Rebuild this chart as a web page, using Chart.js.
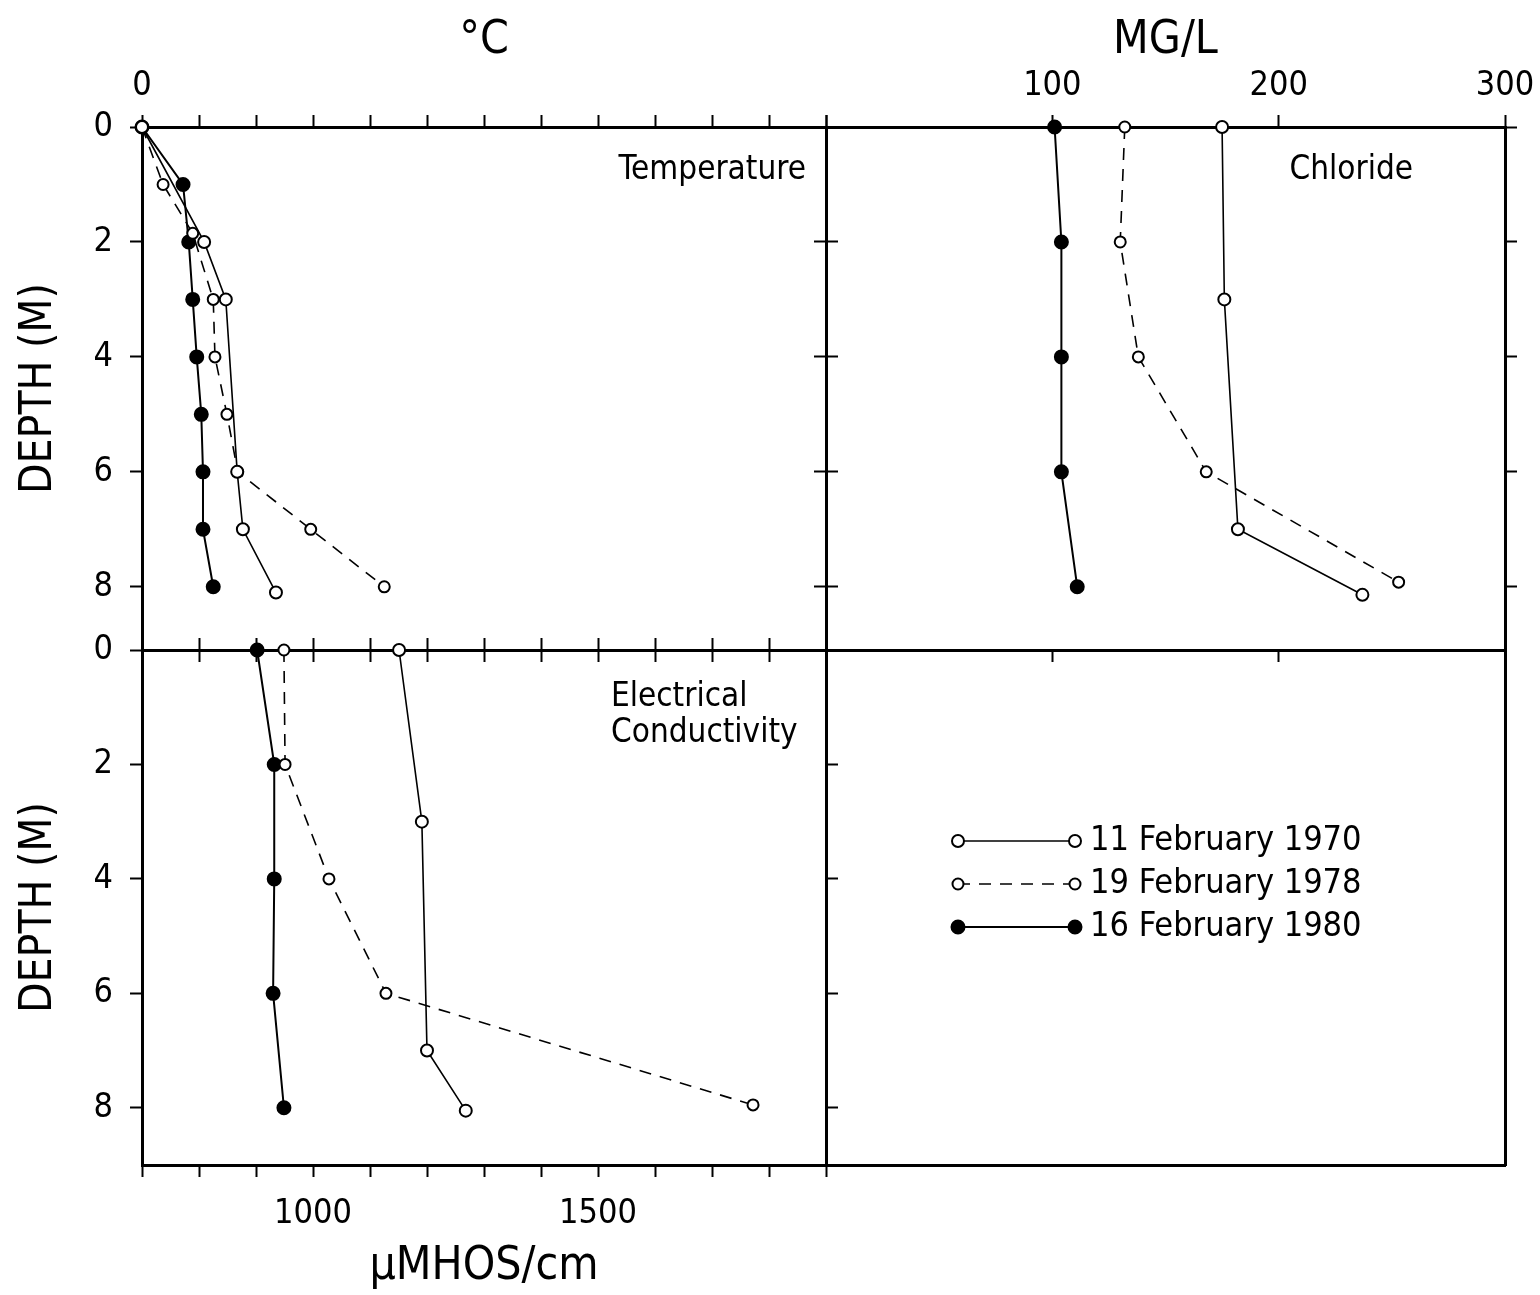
<!DOCTYPE html>
<html>
<head>
<meta charset="utf-8">
<title>Depth profiles: temperature, chloride, conductivity</title>
<script src="https://cdn.jsdelivr.net/npm/chart.js@4.4.1/dist/chart.umd.min.js"></script>
<style>
    html, body { margin: 0; padding: 0; background: #fff; }
    #wrap { position: relative; width: 1540px; height: 1295px; }
    #wrap canvas { position: absolute; left: 0; top: 0; }
</style>
</head>
<body>
<div id="wrap">
    <canvas id="temp-chart" width="1540" height="1295"></canvas>
    <canvas id="chloride-chart" width="1540" height="1295"></canvas>
    <canvas id="cond-chart" width="1540" height="1295"></canvas>
    <canvas id="legend-chart" width="1540" height="1295"></canvas>
</div>
<script>
// Survey dates
const seriesLabels = ['11 February 1970', '19 February 1978', '16 February 1980'];

// Temperature (°C) against depth (m)
const tempDepth1970 = [0, 2, 3, 6, 7, 8.1];
const temp1970 = [0, 1.09, 1.47, 1.67, 1.77, 2.35];
const tempDepth1978 = [0, 1, 1.85, 3, 4, 5, 6, 7, 8];
const temp1978 = [0, 0.37, 0.89, 1.25, 1.28, 1.49, 1.68, 2.96, 4.25];
const tempDepth1980 = [0, 1, 2, 3, 4, 5, 6, 7, 8];
const temp1980 = [0, 0.72, 0.82, 0.89, 0.96, 1.04, 1.07, 1.07, 1.25];

// Chloride (mg/L) against depth (m)
const clDepth1970 = [0, 3, 7, 8.14];
const cl1970 = [175, 176, 182, 237];
const clDepth1978 = [0, 2, 4, 6, 7.92];
const cl1978 = [132, 130, 138, 168, 253];
const clDepth1980 = [0, 2, 4, 6, 8];
const cl1980 = [101, 104, 104, 104, 111];

// Electrical conductivity (µmhos/cm) against depth (m)
const ecDepth1970 = [0, 3, 7, 8.05];
const ec1970 = [1151, 1191, 1200, 1268];
const ecDepth1978 = [0, 2, 4, 6, 7.95];
const ec1978 = [949, 951, 1028, 1128, 1772];
const ecDepth1980 = [0, 2, 4, 6, 8];
const ec1980 = [902, 932, 932, 930, 949];

// Axis ticks
const depthTicks = [0, 2, 4, 6, 8];
const tempLabelled = [0];
const chlorideLabelled = [100, 200, 300];
const condLabelled = [1000, 1500];

const FONT = "'DejaVu Sans Condensed', 'Liberation Sans Narrow', 'DejaVu Sans', sans-serif";
Chart.defaults.font.family = FONT;
Chart.defaults.color = '#000';

// line / marker style for each survey
const seriesStyles = [
    { borderWidth: 1.6, borderDash: [], pointRadius: 6, pointBackgroundColor: '#fff' },
    { borderWidth: 1.6, borderDash: [12, 9], pointRadius: 5.5, pointBackgroundColor: '#fff' },
    { borderWidth: 2, borderDash: [], pointRadius: 6.5, pointBackgroundColor: '#000' }
];

function makePoints(xs, depths) {
    return xs.map((v, i) => ({ x: v, y: depths[i] }));
}

function buildDatasets(pointSets) {
    return pointSets.map((pts, i) => ({
        label: seriesLabels[i],
        data: pts,
        showLine: true,
        borderColor: '#000',
        borderWidth: seriesStyles[i].borderWidth,
        borderDash: seriesStyles[i].borderDash,
        pointRadius: seriesStyles[i].pointRadius,
        pointBackgroundColor: seriesStyles[i].pointBackgroundColor,
        pointBorderColor: '#000',
        pointBorderWidth: 2,
        clip: false
    }));
}

// fix the thickness of an axis box so the panels line up,
// and drop the label overhang so the chart area is not pushed in
function fixedSize(size) {
    return function(scale) {
        if (scale.isHorizontal()) {
            scale.height = size;
        } else {
            scale.width = size;
        }
        scale.paddingLeft = 0;
        scale.paddingRight = 0;
        scale.paddingTop = 0;
        scale.paddingBottom = 0;
    };
}

const frame = { display: true, color: '#000', width: 3 };

function tickMarks(len) {
    return { drawOnChartArea: false, drawTicks: true, tickLength: len, tickWidth: 2, tickColor: '#000' };
}

function labelOnly(list) {
    return function(value) {
        return list.includes(value) ? String(value) : '';
    };
}

function depthAxis(position, max, withLabels, size) {
    return {
        type: 'linear',
        axis: 'y',
        position: position,
        reverse: true,
        min: 0,
        max: max,
        afterBuildTicks: scale => { scale.ticks = depthTicks.map(v => ({ value: v })); },
        ticks: { display: withLabels, padding: 17, font: { size: 34 } },
        grid: tickMarks(12),
        border: frame,
        title: {
            display: withLabels,
            text: 'DEPTH (M)',
            font: { size: 44 },
            padding: { top: 13 }
        },
        afterFit: fixedSize(size)
    };
}

function valueAxis(position, min, max, step, labelled, size, titleText, titleOpts) {
    const showLabels = labelled.length > 0;
    return {
        type: 'linear',
        axis: 'x',
        position: position,
        min: min,
        max: max,
        ticks: {
            display: showLabels,
            stepSize: step,
            autoSkip: false,
            maxRotation: 0,
            padding: position === 'top' ? 8 : 17,
            font: { size: 34 },
            callback: labelOnly(labelled)
        },
        grid: tickMarks(12),
        border: frame,
        title: Object.assign({ display: !!titleText, text: titleText || '', font: { size: 46 } }, titleOpts || {}),
        afterFit: fixedSize(size)
    };
}

// small text written inside a panel
const panelTextPlugin = {
    id: 'panelText',
    afterDraw(chart, args, opts) {
        if (!opts.lines) return;
        const { ctx, chartArea } = chart;
        ctx.save();
        ctx.font = opts.size + 'px ' + FONT;
        ctx.fillStyle = '#000';
        ctx.textAlign = opts.align;
        ctx.textBaseline = 'middle';
        const x = opts.align === 'right' ? chartArea.right - opts.dx : chartArea.left + opts.dx;
        opts.lines.forEach((line, i) => {
            ctx.fillText(line, x, chartArea.top + opts.dy + i * opts.lineGap);
        });
        ctx.restore();
    }
};

// legend drawn as line sample with a marker at each end
const sampleLegendPlugin = {
    id: 'sampleLegend',
    afterDraw(chart, args, opts) {
        if (!opts.rowGap) return;
        const { ctx, chartArea } = chart;
        chart.data.datasets.forEach((ds, i) => {
            const y = chartArea.top + opts.top + i * opts.rowGap;
            const x1 = chartArea.left + opts.left;
            const x2 = x1 + opts.lineLength;
            ctx.save();
            ctx.strokeStyle = ds.borderColor;
            ctx.lineWidth = ds.borderWidth;
            ctx.setLineDash(ds.borderDash);
            ctx.beginPath();
            ctx.moveTo(x1, y);
            ctx.lineTo(x2, y);
            ctx.stroke();
            ctx.setLineDash([]);
            [x1, x2].forEach(x => {
                ctx.beginPath();
                ctx.arc(x, y, ds.pointRadius, 0, Math.PI * 2);
                ctx.fillStyle = ds.pointBackgroundColor;
                ctx.fill();
                ctx.lineWidth = ds.pointBorderWidth;
                ctx.strokeStyle = ds.pointBorderColor;
                ctx.stroke();
            });
            ctx.fillStyle = '#000';
            ctx.font = opts.size + 'px ' + FONT;
            ctx.textAlign = 'left';
            ctx.textBaseline = 'middle';
            ctx.fillText(ds.label, x2 + opts.textGap, y);
            ctx.restore();
        });
    }
};

Chart.register(panelTextPlugin, sampleLegendPlugin);

const commonOptions = {
    responsive: false,
    animation: false,
    events: []
};

// Temperature panel (top left)
new Chart(document.getElementById('temp-chart'), {
    type: 'scatter',
    data: {
        datasets: buildDatasets([
            makePoints(temp1970, tempDepth1970),
            makePoints(temp1978, tempDepth1978),
            makePoints(temp1980, tempDepth1980)
        ])
    },
    options: Object.assign({}, commonOptions, {
        layout: { padding: { left: 0, top: 0, right: 700, bottom: 605 } },
        plugins: {
            legend: { display: false },
            tooltip: { enabled: false },
            panelText: { lines: ['Temperature'], align: 'right', dx: 20, dy: 43, lineGap: 0, size: 33 }
        },
        scales: {
            x: valueAxis('top', 0, 12, 1, tempLabelled, 127, '°C', { padding: { top: 13 } }),
            xb: valueAxis('bottom', 0, 12, 1, [], 40),
            y: depthAxis('left', 9.1, true, 142),
            yr: depthAxis('right', 9.1, false, 14)
        }
    })
});

// Chloride panel (top right)
new Chart(document.getElementById('chloride-chart'), {
    type: 'scatter',
    data: {
        datasets: buildDatasets([
            makePoints(cl1970, clDepth1970),
            makePoints(cl1978, clDepth1978),
            makePoints(cl1980, clDepth1980)
        ])
    },
    options: Object.assign({}, commonOptions, {
        layout: { padding: { left: 812, top: 0, right: 0, bottom: 605 } },
        plugins: {
            legend: { display: false },
            tooltip: { enabled: false },
            panelText: { lines: ['Chloride'], align: 'right', dx: 92, dy: 43, lineGap: 0, size: 33 }
        },
        scales: {
            x: valueAxis('top', 0, 300, 100, chlorideLabelled, 127, 'MG/L', { padding: { top: 13 } }),
            xb: valueAxis('bottom', 0, 300, 100, [], 40),
            y: depthAxis('left', 9.1, false, 14),
            yr: depthAxis('right', 9.1, false, 35)
        }
    })
});

// Electrical conductivity panel (bottom left)
new Chart(document.getElementById('cond-chart'), {
    type: 'scatter',
    data: {
        datasets: buildDatasets([
            makePoints(ec1970, ecDepth1970),
            makePoints(ec1978, ecDepth1978),
            makePoints(ec1980, ecDepth1980)
        ])
    },
    options: Object.assign({}, commonOptions, {
        layout: { padding: { left: 0, top: 610, right: 700, bottom: 0 } },
        plugins: {
            legend: { display: false },
            tooltip: { enabled: false },
            panelText: { lines: ['Electrical', 'Conductivity'], align: 'left', dx: 469, dy: 47, lineGap: 36, size: 33 }
        },
        scales: {
            x: valueAxis('bottom', 700, 1900, 100, condLabelled, 130, 'µMHOS/cm', { padding: { bottom: 0 } }),
            xt: valueAxis('top', 700, 1900, 100, [], 40),
            y: depthAxis('left', 9, true, 142),
            yr: depthAxis('right', 9, false, 14)
        }
    })
});

// Legend panel (bottom right)
new Chart(document.getElementById('legend-chart'), {
    type: 'scatter',
    data: {
        datasets: buildDatasets([[], [], []])
    },
    options: Object.assign({}, commonOptions, {
        layout: { padding: { left: 826, top: 650, right: 35, bottom: 130 } },
        plugins: {
            legend: { display: false },
            tooltip: { enabled: false },
            sampleLegend: { left: 132, top: 191, rowGap: 43, lineLength: 117, textGap: 15, size: 34 }
        },
        scales: {
            x: {
                type: 'linear', position: 'bottom', min: 0, max: 1,
                ticks: { display: false },
                grid: { drawOnChartArea: false, drawTicks: false },
                border: frame,
                afterFit: fixedSize(0)
            },
            y: {
                type: 'linear', position: 'right', min: 0, max: 1,
                ticks: { display: false },
                grid: { drawOnChartArea: false, drawTicks: false },
                border: frame,
                afterFit: fixedSize(0)
            }
        }
    })
});
</script>
</body>
</html>
